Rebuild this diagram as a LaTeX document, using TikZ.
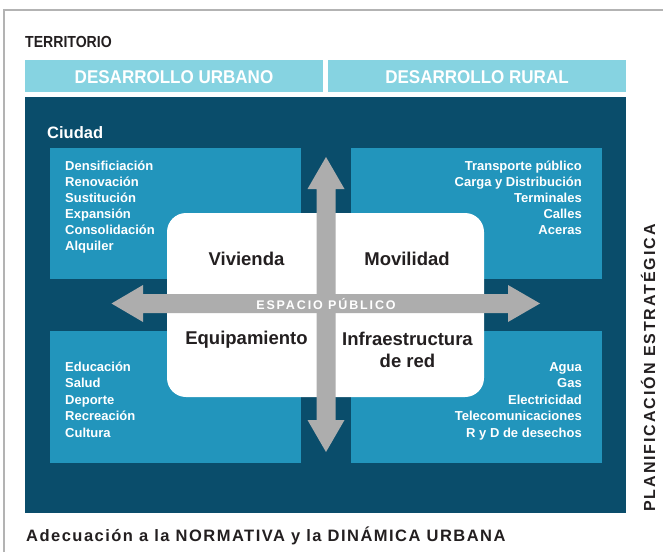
\documentclass[tikz,border=0pt]{standalone}
\usepackage{fontspec}
\usepackage{graphicx}
\setmainfont{Liberation Sans}
\newfontfamily\espaciado{Liberation Sans}[LetterSpace=15]
\newfontfamily\vertical{Liberation Sans}[LetterSpace=12]
\newfontfamily\pie{Liberation Sans}[LetterSpace=9]
\usepackage{xcolor}
\usetikzlibrary{positioning}

\definecolor{marco}{HTML}{B3B3B3}
\definecolor{celeste}{HTML}{86D3E1}
\definecolor{azulosc}{HTML}{0A4D6B}
\definecolor{azulmed}{HTML}{2295BC}
\definecolor{flecha}{HTML}{ADADAD}
\definecolor{tinta}{HTML}{231F20}

\begin{document}
\begin{tikzpicture}[x=1pt,y=-1pt,
  titulo/.style={font=\bfseries\fontsize{16}{18}\selectfont,text=tinta,inner sep=0pt,anchor=base west},
  cabecera/.style={font=\bfseries\fontsize{18.5}{20}\selectfont,text=white,inner sep=0pt,anchor=base},
  tema/.style={font=\bfseries\fontsize{18.5}{20}\selectfont,text=tinta,inner sep=0pt,anchor=base},
  item/.style={font=\bfseries\fontsize{13}{16}\selectfont,text=white,inner sep=0pt}]
\useasboundingbox (0,0) rectangle (663,556);
% marco gris
\draw[marco,line width=2.5pt] (4,552)--(4,10)--(663,10);
\node[titulo] (territorio) at (25,48) {\scalebox{0.88}[1]{TERRITORIO}};
% cabeceras
\fill[celeste] (25,60) rectangle (323,92);
\fill[celeste] (328,60) rectangle (626,92);
\node[cabecera] (urbano) at (174,83.5) {\scalebox{0.92}[1]{DESARROLLO URBANO}};
\node[cabecera] (rural) at (477,83.5) {\scalebox{0.92}[1]{DESARROLLO RURAL}};
% fondo ciudad
\fill[azulosc] (25,97) rectangle (626,513);
\node[font=\bfseries\fontsize{16.5}{18}\selectfont,text=white,inner sep=0pt,anchor=base west] (ciudad) at (47,139) {Ciudad};
\fill[azulmed] (50,148) rectangle (301,279);
\fill[azulmed] (351,148) rectangle (602,279);
\fill[azulmed] (50,331) rectangle (301,463);
\fill[azulmed] (351,331) rectangle (602,463);
% listas
\foreach \t [count=\i] in {Densificiación,Renovación,Sustitución,Expansión,Consolidación,Alquiler}
  \node[item,anchor=base west] (viv\i) at (65,{170.5+16*(\i-1)}) {\t};
\foreach \t [count=\i] in {Transporte público,Carga y Distribución,Terminales,Calles,Aceras}
  \node[item,anchor=base east] (mov\i) at (582,{170.5+16*(\i-1)}) {\t};
\foreach \t [count=\i] in {Educación,Salud,Deporte,Recreación,Cultura}
  \node[item,anchor=base west] (equ\i) at (65,{371.5+16.4*(\i-1)}) {\t};
\foreach \t [count=\i] in {Agua,Gas,Electricidad,Telecomunicaciones,R y D de desechos}
  \node[item,anchor=base east] (inf\i) at (582,{371.5+16.4*(\i-1)}) {\t};
% caja central
\fill[white,rounded corners=19pt] (167,213) rectangle (484,397);
% flechas
\fill[flecha] (326,157)--(344.5,189)--(335.5,189)--(335.5,420)--(344.5,420)--(326,452)
  --(307.5,420)--(316.5,420)--(316.5,189)--(307.5,189)--cycle;
\fill[flecha] (111.5,303.5)--(143,285)--(143,294)--(508,294)--(508,285)--(540,303.5)
  --(508,322)--(508,313)--(143,313)--(143,322)--cycle;
\node[font=\espaciado\bfseries\fontsize{12.5}{14}\selectfont,text=white,inner sep=0pt,anchor=base] (espacio) at (326,309) {ESPACIO PÚBLICO};
% temas
\node[tema] (vivienda) at (246.5,265) {Vivienda};
\node[tema] (movilidad) at (407,265) {Movilidad};
\node[tema] (equipamiento) at (246.5,344.5) {Equipamiento};
\node[tema] (infra) at (407.5,345) {Infraestructura};
\node[tema] (red) at (407.5,367) {de red};
% textos de borde
\node[font=\vertical\bfseries\fontsize{16}{18}\selectfont,text=tinta,inner sep=0pt,anchor=base,rotate=90] (planif) at (655,368) {PLANIFICACIÓN ESTRATÉGICA};
\node[font=\pie\bfseries\fontsize{16.5}{18}\selectfont,text=tinta,inner sep=0pt,anchor=base west] (adecuacion) at (26,541) {Adecuación a la NORMATIVA y la DINÁMICA URBANA};
\end{tikzpicture}
\end{document}
